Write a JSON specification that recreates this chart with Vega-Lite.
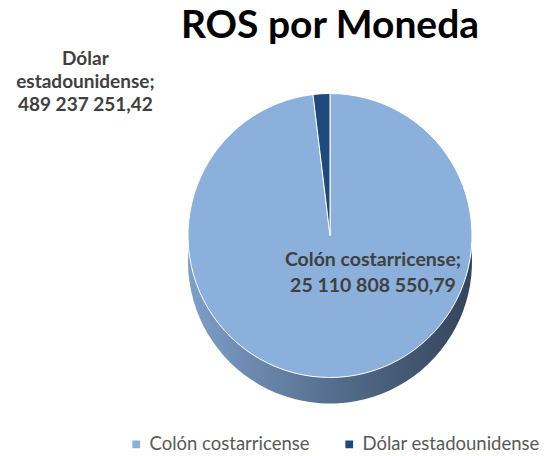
{
  "$schema": "https://vega.github.io/schema/vega-lite/v6.json",
  "width": 556,
  "height": 456,
  "autosize": {"type": "fit", "contains": "padding"},
  "background": "white",
  "padding": {"left": 5, "right": 5, "top": 12, "bottom": 40},
  "title": {
    "text": "ROS por Moneda",
    "font": "Lato",
    "fontSize": 39,
    "fontWeight": "bold",
    "color": "#000000",
    "anchor": "middle",
    "dx": 52,
    "offset": 4
  },
  "config": {"view": {"stroke": null}},
  "data": {
    "values": [
      {"moneda": "Colón costarricense", "valor": 25110808550.79, "etiqueta": "Colón costarricense;\n25 110 808 550,79"},
      {"moneda": "Dólar estadounidense", "valor": 489237251.42, "etiqueta": "Dólar\nestadounidense;\n489 237 251,42"}
    ]
  },
  "encoding": {
    "theta": {"field": "valor", "type": "quantitative", "stack": true},
    "order": {"field": "valor", "type": "quantitative", "sort": "descending"}
  },
  "layer": [
    {
      "mark": {
        "type": "arc",
        "outerRadius": 142,
        "xOffset": 52,
        "yOffset": 26,
        "fill": {
          "gradient": "linear",
          "x1": 0, "y1": 0, "x2": 1, "y2": 0,
          "stops": [
            {"offset": 0, "color": "#7E9FC8"},
            {"offset": 0.5, "color": "#566F90"},
            {"offset": 1, "color": "#34445A"}
          ]
        }
      },
      "encoding": {}
    },
    {
      "mark": {"type": "arc", "outerRadius": 142, "xOffset": 52, "stroke": "white", "strokeWidth": 1},
      "encoding": {
        "color": {
          "field": "moneda",
          "type": "nominal",
          "scale": {
            "domain": ["Colón costarricense", "Dólar estadounidense"],
            "range": ["#8BB0DC", "#1F497D"]
          },
          "legend": {
            "title": null,
            "orient": "none",
            "legendX": 122,
            "legendY": 380,
            "direction": "horizontal",
            "symbolType": "square",
            "symbolSize": 60,
            "symbolStrokeWidth": 0,
            "labelFont": "Lato",
            "labelFontSize": 18.5,
            "labelColor": "#595959",
            "labelLimit": 0,
            "columnPadding": 30
          }
        }
      }
    },
    {
      "transform": [{"filter": "datum.moneda === 'Colón costarricense'"}],
      "mark": {
        "type": "text",
        "radius": 24,
        "dx": 95,
        "font": "Lato",
        "fontSize": 19.5,
        "fontWeight": "bold",
        "color": "#404040",
        "lineBreak": "\n",
        "lineHeight": 26,
        "align": "center",
        "baseline": "middle"
      },
      "encoding": {
        "theta": {"value": 3.1416},
        "text": {"field": "etiqueta"}
      }
    },
    {
      "transform": [{"filter": "datum.moneda === 'Dólar estadounidense'"}],
      "mark": {
        "type": "text",
        "radius": 177,
        "dx": -182,
        "font": "Lato",
        "fontSize": 19,
        "fontWeight": "bold",
        "color": "#404040",
        "lineBreak": "\n",
        "lineHeight": 23,
        "align": "center",
        "baseline": "middle"
      },
      "encoding": {
        "theta": {"value": -0.06},
        "text": {"field": "etiqueta"}
      }
    }
  ]
}
